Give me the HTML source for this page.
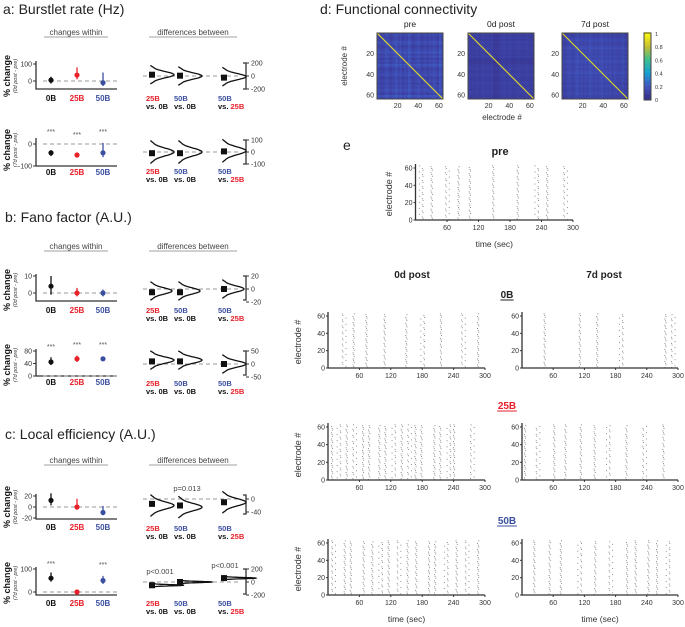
<!DOCTYPE html>
<html><head><meta charset="utf-8"><style>
html,body{margin:0;padding:0;background:#fff}
svg{display:block;font-family:"Liberation Sans",sans-serif}
</style></head><body>
<svg id="fig" width="685" height="627" viewBox="0 0 685 627" xmlns="http://www.w3.org/2000/svg">
<g font-size="14" fill="#222">
<text x="3" y="14">a: Burstlet rate (Hz)</text>
<text x="5" y="222">b: Fano factor (A.U.)</text>
<text x="5" y="439">c: Local efficiency (A.U.)</text>
<text x="320" y="14">d: Functional connectivity</text>
<text x="343" y="150">e</text>
</g>
<g id="g-main"></g>
</svg>
<script>
// ---- point-plot data ----
const groups = ["0B","25B","50B"];
const aW0Mean=[5,35,-10], aW0Lo=[-15,10,-30], aW0Hi=[25,80,50];
const aB0Mean=[20,5,-25], aB0Dist=[20,0,-10];
const aW7Mean=[-40,-50,-40], aW7Lo=[-55,-60,-60], aW7Hi=[-28,-40,5];
const aB7Mean=[-10,-10,5], aB7Dist=[0,0,10];
const bW0Mean=[4,0,0], bW0Lo=[-1,-2,-2], bW0Hi=[10,3,2];
const bB0Mean=[-5,-5,0], bB0Dist=[-3,-3,0];
const bW7Mean=[45,55,55], bW7Lo=[35,45,48], bW7Hi=[60,65,62];
const bB7Mean=[10,10,0], bB7Dist=[15,15,0];
const cW0Mean=[12,0,-10], cW0Lo=[3,-5,-15], cW0Hi=[25,15,2];
const cB0Mean=[-15,-20,-10], cB0Dist=[-20,-25,-10];
const cW7Mean=[60,0,50], cW7Lo=[45,-3,35], cW7Hi=[85,3,70];
const cB7Mean=[-50,0,60], cB7Dist=[-50,0,60];
// ---- raster burst times (sec) ----
const tPre=[10,30,60,80,105,145,195,230,250,285];
const t0B0=[30,47,75,105,150,180,215,258,285];
const t0B7=[45,108,145,190,275,290];
const t25B0=[8,20,35,50,65,80,95,110,125,140,155,165,180,200,215,230,240,275];
const t25B7=[5,30,60,85,110,140,165,200,235,270];
const t50B0=[10,30,45,65,85,100,115,135,150,170,190,205,225,245,265,285];
const t50B7=[25,50,75,110,140,170,200,220,240,260,280];
const timeTicks=[60,120,180,240,300];
const elecTicks=[0,20,40,60];
// ---- connectivity row means ----
const cmPre=[.2,.15,.1,.15,.25,.2,.1,.15,.2,.3,.15,.25,.1,.2,.15,.3,.2,.1,.15,.2,.25,.1,.15,.2,.1,.2,.15,.25,.2,.1,.3,.2];
const cm0d=[.15,.1,.12,.1,.15,.1,.12,.15,.1,.12,.1,.15,.05,.05,.05,.1,.12,.15,.1,.12,.15,.1,.1,.12,.15,.1,.12,.1,.15,.12,.1,.1];
const cm7d=[.12,.1,.15,.2,.15,.12,.2,.25,.15,.2,.15,.2,.15,.25,.2,.15,.2,.15,.2,.25,.15,.2,.15,.2,.1,.2,.15,.12,.15,.2,.12,.1];
const cbTicks=[0,0.2,0.4,0.6,0.8,1];

const NS="http://www.w3.org/2000/svg";
const root=document.getElementById("g-main");
function mk(tag,attrs,parent,txt){const e=document.createElementNS(NS,tag);for(const k in attrs)e.setAttribute(k,attrs[k]);if(txt!==undefined)e.textContent=txt;(parent||root).appendChild(e);return e;}
const COL=["#111","#e8202a","#3b4fa0"];
const WX=[51,77,103], BX=[152,180,224];

function yScale(v0,y0,v1,y1){return v=>y0+(v-v0)*(y1-y0)/(v1-v0);}

function withinPlot(ys,ticks,mean,lo,hi,top,bottom,stars,labY){
  const g=mk("g",{});
  
  
  const ax=mk("path",{d:`M36 ${top}V${bottom}H117`,stroke:"#333","stroke-width":1.3,fill:"none"},g);
  
  
  ticks.forEach(t=>{const y=ys(t);mk("line",{x1:33,x2:36,y1:y,y2:y,stroke:"#333"},g);
    const tl=mk("text",{x:32,y:y+2.5,"font-size":7,"text-anchor":"end",fill:"#333"},g,t);
    
    });
  mk("line",{x1:43,x2:117,y1:ys(0),y2:ys(0),stroke:"#999","stroke-dasharray":"4,3"},g);
  mean.forEach((m,i)=>{
    const l=mk("line",{x1:WX[i],x2:WX[i],y1:ys(lo[i]),y2:ys(hi[i]),stroke:COL[i],"stroke-width":1.3},g);
    
    
    const c=mk("circle",{cx:WX[i],cy:ys(m),r:2.6,fill:COL[i]},g);
    
    
    if(stars[i]){const s=mk("text",{x:WX[i],y:stars[i],"font-size":7,"text-anchor":"middle",fill:"#555"},g,"***");
      
      }
    const t=mk("text",{x:WX[i],y:labY,"font-size":8,"font-weight":"bold","text-anchor":"middle",fill:COL[i]},g,groups[i]);
    
    
  });
}
function betweenPlot(ys,ticks,mean,dist,sigma,wid,top,bottom,labY){
  const g=mk("g",{});
  
  
  const ax=mk("path",{d:`M243 ${top}H246V${bottom}H243`,stroke:"#333","stroke-width":1.3,fill:"none"},g);
  
  
  ticks.forEach(t=>{const y=ys(t);mk("line",{x1:246,x2:249,y1:y,y2:y,stroke:"#333"},g);
    const tl=mk("text",{x:251,y:y+2.5,"font-size":7,fill:"#333"},g,t);
    
    });
  mk("line",{x1:143,x2:240,y1:ys(0),y2:ys(0),stroke:"#999","stroke-dasharray":"4,3"},g);
  const pairs=[["25B","vs. ","0B"],["50B","vs. ","0B"],["50B","vs. ","25B"]];
  const pc=[[1,0],[2,0],[2,1]];
  mean.forEach((m,i)=>{
    let d="";
    for(let k=-30;k<=30;k++){const u=k/10;const v=dist[i]+u*sigma*0.8;const x=BX[i]+wid*Math.exp(-u*u/2)-(Math.abs(u)>2.4?(Math.abs(u)-2.4)*3:0);d+=(k===-30?"M":"L")+x.toFixed(1)+" "+ys(v).toFixed(1);}
    const p=mk("path",{d:d,stroke:"#111","stroke-width":1.3,fill:"none"},g);
    
    
    const r=mk("rect",{x:BX[i]-3,y:ys(m)-3,width:6,height:6,fill:"#111"},g);
    
    
    const t1=mk("text",{x:BX[i]-6,y:labY,"font-size":7.5,"font-weight":"bold",fill:COL[pc[i][0]]},g,pairs[i][0]);
    
    
    const t2=mk("text",{x:BX[i]-6,y:labY+8,"font-size":7.5,"font-weight":"bold",fill:"#111"},g);
    mk("tspan",{},t2,"vs. ");mk("tspan",{fill:COL[pc[i][1]]},t2,pairs[i][2]);
    
    
  });
}
function yLabel(cy,sub){
  const t=mk("text",{transform:`translate(10,${cy}) rotate(-90)`,"font-size":9,"font-weight":"bold","text-anchor":"middle",fill:"#111"},root,"% change");
  
  
  const s=mk("text",{transform:`translate(17,${cy}) rotate(-90)`,"font-size":5.5,"font-style":"italic","text-anchor":"middle",fill:"#333"},root,sub);
  
  
}
function headers(y){
  const a=mk("text",{x:76,y:y,"font-size":8,"text-anchor":"middle",fill:"#444"},root,"changes within");
  
  
  const b=mk("text",{x:193,y:y,"font-size":8,"text-anchor":"middle",fill:"#444"},root,"differences between");
  
  
  mk("line",{x1:44,x2:108,y1:y+2,y2:y+2,stroke:"#444","stroke-width":.6});
  mk("line",{x1:149,x2:237,y1:y+2,y2:y+2,stroke:"#444","stroke-width":.6});
}
// Panel a
headers(35);
withinPlot(yScale(0,81,100,64),[0,100],aW0Mean,aW0Lo,aW0Hi,61,89,[0,0,0],101);
betweenPlot(yScale(0,76,200,63),[200,0,-200],aB0Mean,aB0Dist,60,22,63,89,101);
yLabel(76,"(0d post - pre)");
withinPlot(yScale(0,144,-100,166),[0,-100],aW7Mean,aW7Lo,aW7Hi,138,166,[134,137,134],175);
betweenPlot(yScale(0,152,100,140),[100,0,-100],aB7Mean,aB7Dist,40,22,140,164,174);
yLabel(150,"(7d post - pre)");
// Panel b
headers(249);
withinPlot(yScale(0,293,10,276),[0,10],bW0Mean,bW0Lo,bW0Hi,274,301,[0,0,0],313);
betweenPlot(yScale(0,289,20,276),[20,0,-20],bB0Mean,bB0Dist,6,20,276,300,313);
yLabel(290,"(0d post - pre)");
withinPlot(yScale(0,376,80,351),[0,40,80],bW7Mean,bW7Lo,bW7Hi,349,376,[349,347,347],385);
betweenPlot(yScale(0,364,50,351),[50,0,-50],bB7Mean,bB7Dist,15,22,351,375,386);
yLabel(365,"(7d post - pre)");
// Panel c
headers(463);
withinPlot(yScale(0,507,20,496),[20,0,-20],cW0Mean,cW0Lo,cW0Hi,494,519,[0,0,0],530);
betweenPlot(yScale(0,499,-40,512),[0,-40],cB0Mean,cB0Dist,14,22,495,514,531);
yLabel(507,"(0d post - pre)");
withinPlot(yScale(0,592,100,569),[0,100],cW7Mean,cW7Lo,cW7Hi,567,595,[566,0,567],606);
betweenPlot(yScale(0,582,200,569),[200,0,-200],cB7Mean,cB7Dist,12,32,569,594,606);
yLabel(583,"(7d post - pre)");
[[187,491,"p=0.013"],[160,574,"p<0.001"],[225,568,"p<0.001"]].forEach(p=>{
  const t=mk("text",{x:p[0],y:p[1],"font-size":7.5,"text-anchor":"middle",fill:"#444"},root,p[2]);
  
  
});

// Panel d: matrices
function parula(v){const stops=[[0,[55,45,135]],[0.2,[65,85,190]],[0.4,[20,160,210]],[0.6,[60,190,140]],[0.8,[200,190,50]],[1,[249,251,14]]];
  v=Math.max(0,Math.min(1,v));for(let i=1;i<stops.length;i++){if(v<=stops[i][0]){const a=stops[i-1],b=stops[i],f=(v-a[0])/(b[0]-a[0]);return "rgb("+a[1].map((c,k)=>Math.round(c+(b[1][k]-c)*f)).join(",")+")";}}return "rgb(249,251,14)";}
function matrix(x0,title,rowMean){
  const g=mk("g",{});
  
  
  const S=66,n=rowMean.length,c=S/n;
  mk("rect",{x:x0,y:33,width:S,height:S,fill:parula(0.1)},g);
  rowMean.forEach((ri,i)=>rowMean.forEach((rj,j)=>{
    const v=(ri+rj)/2*0.8;
    mk("rect",{x:(x0+j*c).toFixed(2),y:(33+i*c).toFixed(2),width:c+0.1,height:c+0.1,fill:parula(v)},g);
  }));
  const dg=mk("line",{x1:x0,y1:33,x2:x0+S,y2:33+S,stroke:"#e8e020","stroke-width":1},g);
  
  
  mk("rect",{x:x0,y:33,width:S,height:S,fill:"none",stroke:"#444","stroke-width":1},g);
  const t=mk("text",{x:x0+S/2,y:27,"font-size":8.5,"text-anchor":"middle",fill:"#222"},g,title);
  
  
  [20,40,60].forEach(k=>{const p=33+(k/64)*S;
    mk("text",{x:x0-3,y:p+2.5,"font-size":7,"text-anchor":"end",fill:"#333"},g,k);
    mk("text",{x:x0+(k/64)*S,y:108,"font-size":7,"text-anchor":"middle",fill:"#333"},g,k);});
}
matrix(377,"pre",cmPre);
matrix(468,"0d post",cm0d);
matrix(562,"7d post",cm7d);
(function(){
  const g=mk("g",{});
  
  
  for(let i=0;i<40;i++){const v=i/39;mk("rect",{x:644,y:(100-(v*66)-1.8).toFixed(2),width:7,height:1.9,fill:parula(v)},g);}
  mk("rect",{x:644,y:33,width:7,height:67,fill:"none",stroke:"#444"},g);
  cbTicks.forEach(t=>{mk("text",{x:655,y:100-t*66+2,"font-size":5.5,fill:"#333"},g,t);});
  const yl=mk("text",{transform:"translate(347,66) rotate(-90)","font-size":8,"text-anchor":"middle",fill:"#333"},root,"electrode #");
  
  
  const xl=mk("text",{x:502,y:120,"font-size":8,"text-anchor":"middle",fill:"#333"},root,"electrode #");
  
  
})();

// Panel e: rasters
function raster(name,x0,x1,y0,y60,times,seed,xTitle){
  const g=mk("g",{});
  
  
  const xs=t=>x0+t*(x1-x0)/300, ys=e=>y0+(e/60)*(y60-y0);
  times.forEach((tb,b)=>{
    for(let e=1;e<=63;e++){
      if(((e*11+b*13+seed)%7)<3){
        const jx=(((e*3+b*5)%7)-3)*0.6;
        mk("rect",{x:(xs(tb)+jx).toFixed(1),y:ys(e).toFixed(1),width:0.9,height:0.9,fill:"#777"},g);
      }
    }
  });
  const ax=mk("path",{d:`M${x0} ${y60-4}V${y0}H${x1}`,stroke:"#333","stroke-width":1.3,fill:"none"},g);
  
  
  elecTicks.forEach(e=>{mk("line",{x1:x0-2,x2:x0,y1:ys(e),y2:ys(e),stroke:"#333"},g);
    mk("text",{x:x0-3,y:ys(e)+2.5,"font-size":7,"text-anchor":"end",fill:"#333"},g,e);});
  timeTicks.forEach(t=>{mk("line",{x1:xs(t),x2:xs(t),y1:y0,y2:y0+2,stroke:"#333"},g);
    mk("text",{x:xs(t),y:y0+10,"font-size":7,"text-anchor":"middle",fill:"#333"},g,t);});
  if(xTitle){const tt=mk("text",{x:(x0+x1)/2,y:y0+27,"font-size":8.5,"text-anchor":"middle",fill:"#333"},g,"time (sec)");
    
    }
}
raster("pre",415.5,573,220,168,tPre,0,true);
raster("0B-0d",328,485,368,316,t0B0,1,false);
raster("0B-7d",522,678,368,316,t0B7,2,false);
raster("25B-0d",328,485,480,427,t25B0,3,false);
raster("25B-7d",522,678,480,427,t25B7,4,false);
raster("50B-0d",328,485,595,543,t50B0,1,true);
raster("50B-7d",522,678,595,543,t50B7,2,true);
[[500,155,"pre",11],[412,278,"0d post",10],[604,278,"7d post",10]].forEach(h=>{
  const t=mk("text",{x:h[0],y:h[1],"font-size":h[3],"font-weight":"bold","text-anchor":"middle",fill:"#222"},root,h[2]);
  
  
});
[[298,"0B","#222"],[409,"25B","#e8202a"],[524,"50B","#3b4fa0"]].forEach(h=>{
  const t=mk("text",{x:507,y:h[0],"font-size":10,"font-weight":"bold","text-anchor":"middle",fill:h[2]},root,h[1]);
  
  
  mk("line",{x1:507-h[1].length*3.3,x2:507+h[1].length*3.3,y1:h[0]+2,y2:h[0]+2,stroke:h[2],"stroke-width":1});
});
[[392,194],[301,342],[301,455],[301,569]].forEach(p=>{
  const t=mk("text",{transform:`translate(${p[0]},${p[1]}) rotate(-90)`,"font-size":9,"text-anchor":"middle",fill:"#333"},root,"electrode #");
  
  
});
</script>
</body></html>
